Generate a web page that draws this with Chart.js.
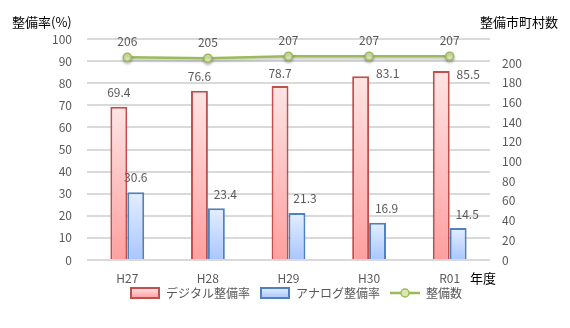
<!DOCTYPE html>
<html>
<head>
<meta charset="utf-8">
<style>
  html, body { margin: 0; padding: 0; background: #fff; }
  #wrap { width: 570px; height: 328px; position: relative; }
</style>
<script src="https://cdn.jsdelivr.net/npm/chart.js@4/dist/chart.umd.min.js"></script>
</head>
<body>
<div id="wrap"><canvas id="seibiChart" width="570" height="328"></canvas></div>
<script>
var years = ["H27", "H28", "H29", "H30", "R01"];
var digitalRate = [69.4, 76.6, 78.7, 83.1, 85.5];
var analogRate = [30.6, 23.4, 21.3, 16.9, 14.5];
var townCount = [206, 205, 207, 207, 207];

var FONT = "'Noto Sans CJK JP', 'Open Sans', sans-serif";
var GREY = '#595959';

// label nudges per dataset: [dx, lift above the mark]
var labelNudge = [
  [[0, 14], [0, 14], [0, 13], [27, 3], [27, -3]],
  [[0, 15], [9, 14], [8, 14], [9, 14], [9, 14]],
  [[0, 16], [0, 16], [0, 16], [0, 16], [0, 16]]
];

// vertical gradient running from the top of each bar down to the base
function barGradient(top, bottom) {
  return function (c) {
    var chart = c.chart;
    if (!chart.chartArea || c.dataIndex === undefined) return bottom;
    var y = chart.scales.y;
    var y0 = y.getPixelForValue(c.raw);
    var y1 = y.getPixelForValue(0);
    var g = chart.ctx.createLinearGradient(0, y0, 0, y1);
    g.addColorStop(0, top);
    g.addColorStop(1, bottom);
    return g;
  };
}

// small legend swatches
function boxSwatch(top, bottom, border) {
  var cv = document.createElement('canvas');
  cv.width = 30; cv.height = 12;
  var c = cv.getContext('2d');
  var g = c.createLinearGradient(0, 1, 0, 11);
  g.addColorStop(0, top); g.addColorStop(1, bottom);
  c.fillStyle = g;
  c.fillRect(1, 1, 28, 10);
  c.strokeStyle = border; c.lineWidth = 2;
  c.strokeRect(1, 1, 28, 10);
  return cv;
}
function lineSwatch() {
  var cv = document.createElement('canvas');
  cv.width = 30; cv.height = 12;
  var c = cv.getContext('2d');
  c.strokeStyle = '#9bbb59'; c.lineWidth = 2.5;
  c.beginPath(); c.moveTo(0, 6); c.lineTo(30, 6); c.stroke();
  c.fillStyle = '#dbe8b4'; c.lineWidth = 1.5;
  c.beginPath(); c.arc(15, 6, 4, 0, Math.PI * 2); c.fill(); c.stroke();
  return cv;
}

var swatches = [
  boxSwatch('#ffe4e4', '#ff9f9f', '#c0504d'),
  boxSwatch('#e4eeff', '#a9c6ff', '#4f81bd'),
  lineSwatch()
];

// value labels above bars and points, year labels and axis captions
var labelPlugin = {
  id: 'valueLabels',
  beforeDatasetDraw: function (chart, args) {
    if (args.index === 2) {
      chart.ctx.save();
      chart.ctx.shadowColor = 'rgba(0,0,0,0.25)';
      chart.ctx.shadowBlur = 3;
      chart.ctx.shadowOffsetY = 2;
    }
  },
  afterDatasetDraw: function (chart, args) {
    if (args.index === 2) chart.ctx.restore();
  },
  afterDatasetsDraw: function (chart) {
    var ctx = chart.ctx;
    ctx.save();
    ctx.font = '12px ' + FONT;
    ctx.fillStyle = GREY;
    ctx.textAlign = 'center';
    ctx.textBaseline = 'middle';
    chart.data.datasets.forEach(function (ds, i) {
      var meta = chart.getDatasetMeta(i);
      meta.data.forEach(function (el, j) {
        var txt = i === 2 ? String(ds.data[j]) : ds.data[j].toFixed(1);
        var n = labelNudge[i][j];
        ctx.fillText(txt, el.x + n[0], el.y - n[1]);
      });
    });

    // category labels under the axis
    var xs = chart.scales.x;
    chart.data.labels.forEach(function (lab, j) {
      ctx.fillText(lab, xs.getPixelForValue(j), chart.chartArea.bottom + 18);
    });

    ctx.fillStyle = '#000';
    ctx.font = '13px ' + FONT;
    ctx.textAlign = 'left';
    ctx.fillText('整備率(%)', 12, 22);
    ctx.fillText('整備市町村数', 480, 22);
    ctx.fillText('年度', 470, chart.chartArea.bottom + 18);
    ctx.restore();
  }
};

new Chart(document.getElementById('seibiChart'), {
  type: 'bar',
  data: {
    labels: years,
    datasets: [{
      label: 'デジタル整備率',
      data: digitalRate,
      backgroundColor: barGradient('#ffe4e4', '#ff9f9f'),
      borderColor: '#c0504d',
      borderWidth: 2,
      yAxisID: 'y',
      order: 2,
      categoryPercentage: 0.42,
      barPercentage: 1
    }, {
      label: 'アナログ整備率',
      data: analogRate,
      backgroundColor: barGradient('#e4eeff', '#a9c6ff'),
      borderColor: '#4f81bd',
      borderWidth: 2,
      yAxisID: 'y',
      order: 2,
      categoryPercentage: 0.42,
      barPercentage: 1
    }, {
      type: 'line',
      label: '整備数',
      data: townCount,
      borderColor: '#9bbb59',
      borderWidth: 2.5,
      pointRadius: 4,
      pointBorderWidth: 1.5,
      pointBackgroundColor: '#dbe8b4',
      pointBorderColor: '#9bbb59',
      yAxisID: 'y1',
      order: 1
    }]
  },
  options: {
    responsive: false,
    animation: false,
    layout: { padding: { top: 39, bottom: 19, left: 22, right: 0 } },
    plugins: {
      tooltip: { enabled: false },
      legend: {
        position: 'bottom',
        labels: {
          usePointStyle: true,
          pointStyleWidth: 30,
          boxHeight: 12,
          font: { size: 12, family: FONT },
          color: GREY,
          padding: 10,
          generateLabels: function (chart) {
            return chart.data.datasets.map(function (ds, i) {
              return { text: ds.label, pointStyle: swatches[i], datasetIndex: i, lineWidth: 0, fontColor: GREY };
            });
          }
        }
      }
    },
    scales: {
      x: {
        grid: { display: false, drawTicks: false },
        border: { display: false },
        ticks: { display: false },
        afterFit: function (s) { s.height = 17; }
      },
      y: {
        position: 'left',
        min: 0, max: 100,
        ticks: { stepSize: 10, color: GREY, font: { size: 12, family: FONT }, padding: 15 },
        grid: { color: '#d9d9d9', lineWidth: 2, drawTicks: false },
        border: { display: false },
        afterFit: function (s) { s.width = 65; }
      },
      y1: {
        position: 'right',
        min: 0, max: 224.5,
        afterBuildTicks: function (s) {
          s.ticks = s.ticks.filter(function (t) { return t.value % 20 === 0; });
        },
        ticks: { stepSize: 20, color: GREY, font: { size: 12, family: FONT }, padding: 12 },
        grid: { display: false, drawTicks: false },
        border: { display: false },
        afterFit: function (s) { s.width = 80; }
      }
    }
  },
  plugins: [labelPlugin]
});
</script>
</body>
</html>
